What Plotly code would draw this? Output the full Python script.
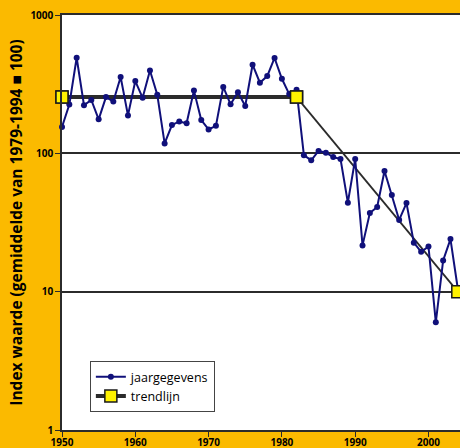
import plotly.graph_objects as go

years = list(range(1950, 2005))
index_values = [155, 225, 491, 223, 243, 176, 255, 237, 356, 188,
                333, 252, 397, 265, 118, 160, 170, 165, 284, 174,
                149, 158, 302, 226, 276, 220, 437, 324, 362, 489,
                346, 268, 288, 97, 89, 104, 101, 94, 91, 44,
                91, 21.6, 37, 41, 74.5, 50, 33, 43.7, 22.6, 19.4,
                21.2, 6.0, 16.8, 24, 10.5]

trend_years = [1950, 1982, 2004]
trend_values = [255, 255, 10]

x_ticks = [1950, 1960, 1970, 1980, 1990, 2000]
y_ticks = [1, 10, 100, 1000]
y_tick_labels = ["1", "10", "100", "1000"]

ORANGE = "#FBBA00"
NAVY = "#10107A"
DARK = "#2b2b2b"

fig = go.Figure()

fig.add_trace(go.Scatter(
    x=trend_years[:2], y=trend_values[:2], mode="lines+markers",
    name="trendlijn", line=dict(color=DARK, width=4),
    marker=dict(symbol="square", size=12, color="#FFF200",
                line=dict(color="#1a1a1a", width=1.5)),
    legendrank=2, cliponaxis=False))
fig.add_trace(go.Scatter(
    x=trend_years[1:], y=trend_values[1:], mode="lines",
    showlegend=False, line=dict(color=DARK, width=1.8), cliponaxis=False))

fig.add_trace(go.Scatter(
    x=years, y=index_values, mode="lines+markers", name="jaargegevens",
    line=dict(color=NAVY, width=2),
    marker=dict(symbol="circle", size=6, color=NAVY),
    legendrank=1, cliponaxis=False))

fig.add_trace(go.Scatter(
    x=trend_years, y=trend_values, mode="markers", showlegend=False,
    marker=dict(symbol="square", size=12, color="#FFF200",
                line=dict(color="#1a1a1a", width=1.5)),
    cliponaxis=False))

fig.update_layout(
    width=460, height=448,
    margin=dict(l=62, r=0, t=15, b=18, autoexpand=False),
    paper_bgcolor=ORANGE, plot_bgcolor="white",
    font=dict(family="Open Sans", color="black"),
    legend=dict(x=0.07, y=0.166, xanchor="left", yanchor="top",
                bgcolor="white", bordercolor="#444", borderwidth=1,
                font=dict(size=12.5, family="Open Sans"),
                tracegroupgap=0, itemwidth=30),
    showlegend=True,
)

fig.update_xaxes(
    range=[1950, 2004.3], tickvals=x_ticks, ticktext=[str(t) for t in x_ticks],
    ticks="outside", ticklen=5, tickcolor=DARK, tickwidth=1.2,
    showline=True, linecolor=DARK, linewidth=1.5, mirror=True,
    showgrid=False, zeroline=False, automargin=False,
    ticklabelstandoff=-3,
    tickfont=dict(size=10, family="Open Sans", weight="bold"))

fig.update_yaxes(
    type="log", range=[0, 3], tickvals=y_ticks, ticktext=y_tick_labels,
    ticks="outside", ticklen=5, tickcolor=DARK, tickwidth=1.2,
    showline=True, linecolor=DARK, linewidth=1.5,
    showgrid=True, gridcolor=DARK, gridwidth=1.5, zeroline=False,
    automargin=False,
    tickfont=dict(size=10, family="Open Sans", weight="bold"),
    title=dict(text="Index waarde (gemiddelde van 1979-1994 ■ 100)",
               font=dict(size=15.5, family="Open Sans", weight="bold"),
               standoff=4))

fig.write_html("out.html",
               config={"displayModeBar": False},
               post_script="document.body.style.margin='0';"
                           "document.body.style.padding='0';")
